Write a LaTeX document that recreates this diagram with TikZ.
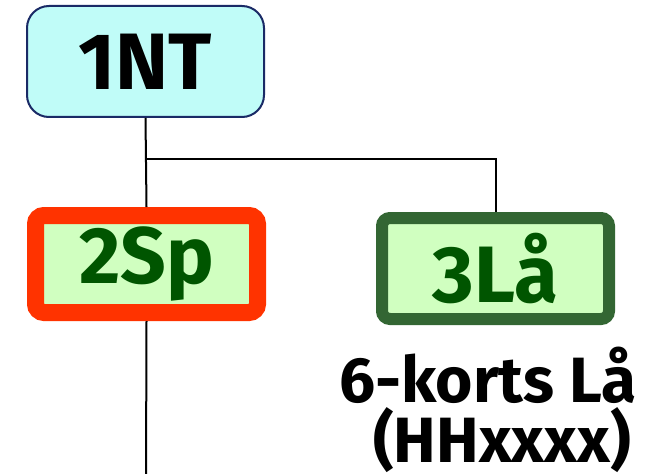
\documentclass[tikz,border=0pt]{standalone}
\usepackage{fontspec}
\setmainfont{Fira Sans}
\definecolor{ntfill}{HTML}{C0FCF8}
\definecolor{ntdraw}{HTML}{1A2A66}
\definecolor{gfill}{HTML}{D0FFC0}
\definecolor{gtext}{HTML}{005500}
\definecolor{redb}{HTML}{FF3300}
\definecolor{greenb}{HTML}{336633}
\begin{document}
\begin{tikzpicture}[x=1pt,y=-1pt,
  bidbox/.style={rounded corners=#1, inner sep=0pt},
  conn/.style={draw=black, line width=2pt},
  big/.style={font=\fontsize{80}{90}\selectfont\bfseries}]
\useasboundingbox (0,0) rectangle (660,473);
\node[bidbox=22pt, draw=ntdraw, line width=2pt, fill=ntfill,
  minimum width=237pt, minimum height=111pt, big, text=black] (nt) at (145.5,61.5) {1NT};
\node[bidbox=8.5pt, draw=redb, line width=17pt, fill=gfill,
  minimum width=222pt, minimum height=97pt, big, text=gtext] (sp) at (146.5,264) {2Sp};
\node[bidbox=8pt, draw=greenb, line width=12pt, fill=gfill,
  minimum width=227pt, minimum height=101pt, big, text=gtext] (la) at (495.5,268.5) {3Lå};
\node[anchor=base, font=\fontsize{64}{70}\selectfont\bfseries] (t1) at (488,402) {6-korts Lå};
\node[anchor=base, font=\fontsize{64}{70}\selectfont\bfseries] (t2) at (502,462) {(HHxxxx)};
\coordinate (j) at (146,159);
\coordinate (bot) at (146,480);
\draw[conn] (nt.south) -- (sp.north);
\draw[conn] (j) -| (la.north);
\draw[conn] (sp.south) -- (bot);
\end{tikzpicture}
\end{document}
